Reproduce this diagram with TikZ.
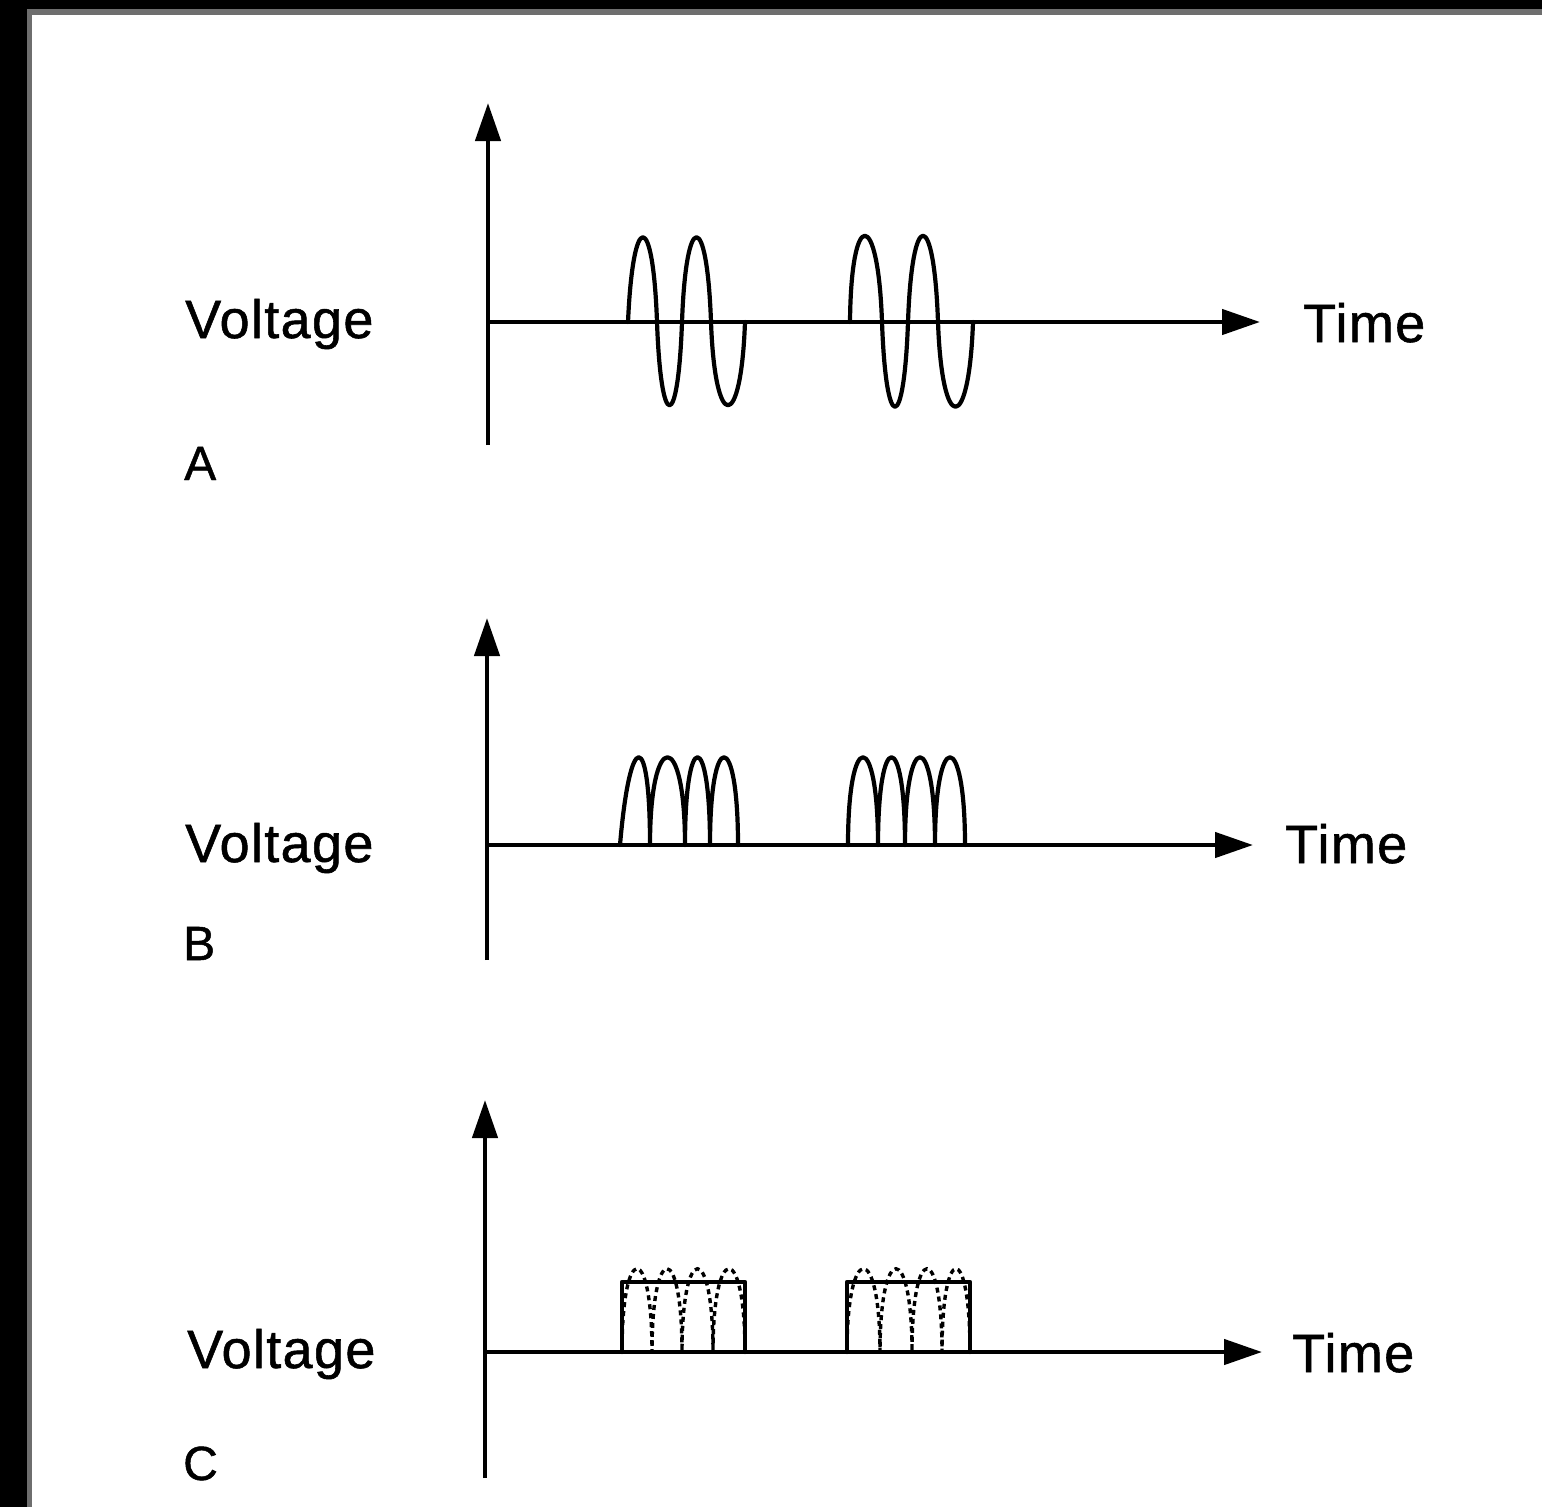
\documentclass[tikz,border=0pt]{standalone}
\usepackage{fontspec}
\setmainfont{Liberation Sans}
\newfontfamily\lblfont[LetterSpace=2.5,FakeBold=1]{Liberation Sans}
\newfontfamily\tagfont[FakeBold=1]{Liberation Sans}
\usetikzlibrary{arrows.meta}
\definecolor{framegray}{RGB}{110,110,110}
\begin{document}
\begin{tikzpicture}[x=1pt,y=-1pt,
  axis/.style={line width=4.5pt,-{Triangle[length=38pt,width=25pt]}},
  wave/.style={line width=4.2pt,line join=round,line cap=round},
  dwave/.style={line width=3.4pt,dash pattern=on 5pt off 4pt},
  lbl/.style={inner sep=0pt,anchor=base west,font=\lblfont\fontsize{54}{60}\selectfont},
  tag/.style={inner sep=0pt,anchor=base west,font=\tagfont\fontsize{48}{54}\selectfont}]
\useasboundingbox (0,0) rectangle (1542,1507);
\fill[black] (0,0) rectangle (1542,1507);
\fill[framegray] (27,9) rectangle (1542,1507);
\fill[white] (32,15) rectangle (1542,1507);

% ---------- Panel A ----------
\coordinate (A0) at (488,322);
\coordinate (Atop) at (488,103);
\coordinate (Abot) at (488,445);
\coordinate (Aend) at (1260,322);
\draw[axis] (Abot) -- (Atop);
\draw[axis] (A0) -- (Aend);
% burst 1 (up lobes peak ~237, down lobes ~404)
\draw[wave] (628,322)
  .. controls (633,209) and (653,209) .. (657,322)
  .. controls (661,433) and (678,433) .. (682,322)
  .. controls (686,209) and (707,209) .. (711,322)
  .. controls (715,433) and (741,433) .. (745,322);
% burst 2
\draw[wave] (850,322)
  .. controls (851,207) and (878,207) .. (882,322)
  .. controls (886,435) and (904,435) .. (908,322)
  .. controls (912,207) and (934,207) .. (938,322)
  .. controls (942,435) and (969,435) .. (973,322);
\node[lbl] (vA) at (185,338) {Voltage};
\node[lbl] (tA) at (1303,342) {Time};
\node[tag] (lA) at (184,480) {A};

% ---------- Panel B ----------
\coordinate (B0) at (487,845);
\coordinate (Btop) at (487,618);
\coordinate (Bbot) at (487,960);
\coordinate (Bend) at (1253,845);
\draw[axis] (Bbot) -- (Btop);
\draw[axis] (B0) -- (Bend);
\draw[wave] (620,845)
  .. controls (630,728) and (650,728) .. (650,845)
  .. controls (650,728) and (685,728) .. (685,845)
  .. controls (685,728) and (710,728) .. (710,845)
  .. controls (710,728) and (738,728) .. (738,845);
\draw[wave] (848,845)
  .. controls (848,728) and (878,728) .. (878,845)
  .. controls (878,728) and (905,728) .. (905,845)
  .. controls (905,728) and (935,728) .. (935,845)
  .. controls (935,728) and (965,728) .. (965,845);
\node[lbl] (vB) at (185,862) {Voltage};
\node[lbl] (tB) at (1285,863) {Time};
\node[tag] (lB) at (183,960) {B};

% ---------- Panel C ----------
\coordinate (C0) at (485,1352);
\coordinate (Ctop) at (485,1100);
\coordinate (Cbot) at (485,1478);
\coordinate (Cend) at (1262,1352);
\draw[axis] (Cbot) -- (Ctop);
\draw[axis] (C0) -- (Cend);
\draw[wave] (622,1352) -- (622,1282) -- (745,1282) -- (745,1352);
\draw[wave] (847,1352) -- (847,1282) -- (970,1282) -- (970,1352);
\draw[dwave] (622,1352)
  .. controls (622,1241) and (652,1241) .. (652,1352)
  .. controls (652,1241) and (682,1241) .. (682,1352)
  .. controls (682,1241) and (713,1241) .. (713,1352)
  .. controls (713,1241) and (745,1241) .. (745,1352);
\draw[dwave] (847,1352)
  .. controls (847,1241) and (880,1241) .. (880,1352)
  .. controls (880,1241) and (912,1241) .. (912,1352)
  .. controls (912,1241) and (942,1241) .. (942,1352)
  .. controls (942,1241) and (970,1241) .. (970,1352);
\node[lbl] (vC) at (187,1368) {Voltage};
\node[lbl] (tC) at (1292,1372) {Time};
\node[tag] (lC) at (183,1480) {C};
\end{tikzpicture}
\end{document}
